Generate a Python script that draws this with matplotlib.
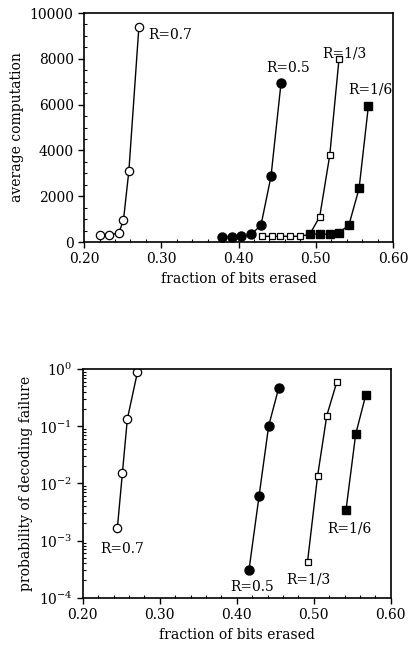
import matplotlib
matplotlib.use("Agg")
import matplotlib.pyplot as plt
from matplotlib.ticker import MultipleLocator, LogLocator, NullFormatter

plt.rcParams['font.family'] = 'DejaVu Serif'
plt.rcParams['mathtext.fontset'] = 'dejavuserif'
plt.rcParams['font.size'] = 10

# average computation vs fraction erased
x07 = [0.220, 0.232, 0.245, 0.251, 0.258, 0.271]
y07 = [300, 300, 400, 950, 3100, 9400]
x05 = [0.378, 0.391, 0.403, 0.416, 0.429, 0.442, 0.455]
y05 = [220, 230, 250, 330, 730, 2870, 6950]
x13 = [0.430, 0.443, 0.454, 0.466, 0.479, 0.492, 0.505, 0.518, 0.530]
y13 = [250, 250, 250, 250, 250, 330, 1100, 3780, 7980]
x16 = [0.492, 0.505, 0.518, 0.530, 0.543, 0.556, 0.568]
y16 = [360, 340, 340, 390, 760, 2340, 5920]

# probability of decoding failure
px07 = [0.245, 0.2515, 0.258, 0.271]
py07 = [1.65e-3, 1.5e-2, 0.135, 0.88]
px05 = [0.416, 0.429, 0.4415, 0.4545]
py05 = [3.1e-4, 6.0e-3, 0.102, 0.47]
px13 = [0.492, 0.505, 0.517, 0.530]
py13 = [4.3e-4, 1.35e-2, 0.155, 0.60]
px16 = [0.542, 0.5545, 0.5675]
py16 = [3.5e-3, 7.3e-2, 0.35]

fig = plt.figure(figsize=(4.1, 6.55), dpi=100)
ax1 = fig.add_axes([0.205, 0.6305, 0.7537, 0.3496])
ax2 = fig.add_axes([0.2017, 0.0875, 0.7513, 0.3487])

lw = 1.0
ax1.plot(x07, y07, 'k-', lw=lw, marker='o', mfc='white', mec='k', ms=6, mew=0.9)
ax1.plot(x05, y05, 'k-', lw=lw, marker='o', mfc='k', mec='k', ms=6.5)
ax1.plot(x13, y13, 'k-', lw=lw, marker='s', mfc='white', mec='k', ms=5, mew=0.9)
ax1.plot(x16, y16, 'k-', lw=lw, marker='s', mfc='k', mec='k', ms=5.5)

ax1.text(0.283, 9050, 'R=0.7', va='center', ha='left')
ax1.text(0.436, 7600, 'R=0.5', va='center', ha='left')
ax1.text(0.509, 8250, 'R=1/3', va='center', ha='left')
ax1.text(0.542, 6650, 'R=1/6', va='center', ha='left')

ax1.set_xlim(0.2, 0.6)
ax1.set_ylim(0, 10000)
ax1.xaxis.set_major_locator(MultipleLocator(0.1))
ax1.xaxis.set_minor_locator(MultipleLocator(0.02))
ax1.yaxis.set_major_locator(MultipleLocator(2000))
ax1.yaxis.set_minor_locator(MultipleLocator(500))
ax1.xaxis.set_major_formatter(matplotlib.ticker.FormatStrFormatter('%.2f'))
ax1.set_xlabel('fraction of bits erased')
ax1.set_ylabel('average computation')

ax2.plot(px07, py07, 'k-', lw=lw, marker='o', mfc='white', mec='k', ms=6, mew=0.9)
ax2.plot(px05, py05, 'k-', lw=lw, marker='o', mfc='k', mec='k', ms=6.5)
ax2.plot(px13, py13, 'k-', lw=lw, marker='s', mfc='white', mec='k', ms=5, mew=0.9)
ax2.plot(px16, py16, 'k-', lw=lw, marker='s', mfc='k', mec='k', ms=5.5)

ax2.set_yscale('log')
ax2.set_xlim(0.2, 0.6)
ax2.set_ylim(1e-4, 1)
ax2.text(0.2225, 7.0e-4, 'R=0.7', va='center', ha='left')
ax2.text(0.391, 1.56e-4, 'R=0.5', va='center', ha='left')
ax2.text(0.465, 2.05e-4, 'R=1/3', va='center', ha='left')
ax2.text(0.517, 1.6e-3, 'R=1/6', va='center', ha='left')
ax2.xaxis.set_major_locator(MultipleLocator(0.1))
ax2.xaxis.set_minor_locator(MultipleLocator(0.02))
ax2.yaxis.set_major_locator(LogLocator(base=10, numticks=10))
ax2.yaxis.set_minor_locator(LogLocator(base=10, subs=range(2, 10), numticks=10))
ax2.yaxis.set_minor_formatter(NullFormatter())
ax2.xaxis.set_major_formatter(matplotlib.ticker.FormatStrFormatter('%.2f'))
ax2.set_xlabel('fraction of bits erased')
ax2.set_ylabel('probability of decoding failure')

for ax in (ax1, ax2):
    ax.tick_params(which='major', direction='out', length=4, width=1)
    ax.tick_params(which='minor', direction='in', length=2.5, width=0.8)
    for s in ax.spines.values():
        s.set_linewidth(1.2)

fig.savefig('out.png', dpi=100)
